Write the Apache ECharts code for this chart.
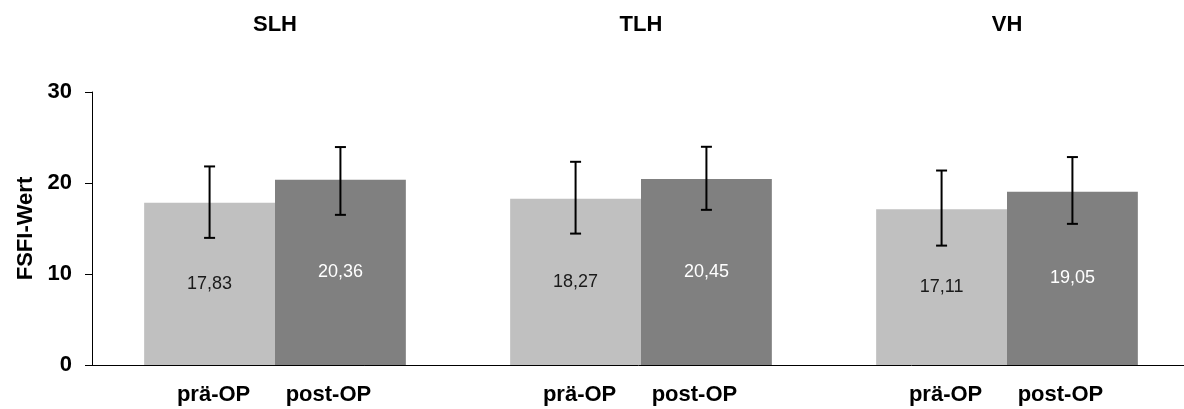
<!DOCTYPE html>
<html>
<head>
<meta charset="utf-8">
<script src="https://cdn.jsdelivr.net/npm/echarts@6/dist/echarts.min.js"></script>
<style>
html,body{margin:0;padding:0;background:#fff;}
#chart{width:1184px;height:409px;}
</style>
</head>
<body>
<div id="chart"></div>
<script>
var groups = ['SLH', 'TLH', 'VH'];
var phaseLabels = ['prä-OP', 'post-OP'];
var preMean = [17.83, 18.27, 17.11];
var postMean = [20.36, 20.45, 19.05];
var preLow = [13.97, 14.44, 13.12];
var preHigh = [21.82, 22.33, 21.37];
var postLow = [16.50, 17.05, 15.51];
var postHigh = [23.95, 23.98, 22.85];
var yTicks = [0, 10, 20, 30];

var FONT = '"Liberation Sans", Arial, sans-serif';
var BOLD_SIZE = 22;
var BAR_FRACTION = 0.715; // 1 - barCategoryGap
var LABEL_SHIFT = [4, -12]; // horizontal nudge of the phase labels (px)

var errData = [];
for (var i = 0; i < groups.length; i++) {
  errData.push([i, preLow[i], preHigh[i], 0]);
  errData.push([i, postLow[i], postHigh[i], 1]);
}

function fmt(v) { return v.toFixed(2).replace('.', ','); }

var chart = echarts.init(document.getElementById('chart'));
chart.setOption({
  animation: false,
  backgroundColor: '#fff',
  grid: { left: 92, width: 1098, top: 92, bottom: 44, containLabel: false, outerBoundsMode: 'none' },
  xAxis: [{
    type: 'category',
    data: groups,
    position: 'bottom',
    axisLine: { lineStyle: { color: '#000', width: 1 } },
    axisTick: { show: false },
    axisLabel: { show: false }
  }, {
    type: 'category',
    data: groups,
    position: 'top',
    axisLine: { show: false },
    axisTick: { show: false },
    axisLabel: { show: true, margin: 56, color: '#000', fontWeight: 'bold', fontSize: BOLD_SIZE, fontFamily: FONT }
  }],
  yAxis: {
    type: 'value',
    min: 0, max: 30, interval: 10,
    name: 'FSFI-Wert',
    nameLocation: 'middle',
    nameGap: 52,
    nameRotate: 90,
    nameTextStyle: { color: '#000', fontWeight: 'bold', fontSize: BOLD_SIZE, fontFamily: FONT },
    axisLine: { show: true, lineStyle: { color: '#000', width: 1 } },
    axisTick: { show: true, length: 7, lineStyle: { color: '#000' } },
    splitLine: { show: false },
    axisLabel: {
      color: '#000', fontWeight: 'bold', fontSize: BOLD_SIZE, fontFamily: FONT, margin: 20,
      formatter: function (v) { return yTicks.indexOf(v) >= 0 ? String(v) : ''; }
    }
  },
  series: [{
    type: 'bar',
    name: phaseLabels[0],
    data: preMean,
    barGap: '0%',
    barCategoryGap: '28.5%',
    itemStyle: { color: '#c0c0c0' },
    label: {
      show: true, position: 'inside', color: '#1a1a1a', fontSize: 18, fontFamily: FONT,
      formatter: function (p) { return fmt(p.value); }
    }
  }, {
    type: 'bar',
    name: phaseLabels[1],
    data: postMean,
    barGap: '0%',
    barCategoryGap: '28.5%',
    itemStyle: { color: '#808080' },
    label: {
      show: true, position: 'inside', color: '#fff', fontSize: 18, fontFamily: FONT,
      formatter: function (p) { return fmt(p.value); }
    }
  }, {
    type: 'custom',
    z: 10,
    clip: false,
    data: errData,
    encode: { x: 0, y: [1, 2] },
    renderItem: function (params, api) {
      var cat = api.value(0);
      var lo = api.value(1);
      var hi = api.value(2);
      var which = api.value(3);
      var band = api.size([1, 0])[0];
      var base = api.coord([cat, 0]);
      var x = base[0] + (which === 0 ? -1 : 1) * band * BAR_FRACTION / 4;
      var yLo = api.coord([cat, lo])[1];
      var yHi = api.coord([cat, hi])[1];
      var cap = 5.5;
      var st = { stroke: '#000', lineWidth: 2 };
      return {
        type: 'group',
        children: [
          { type: 'line', shape: { x1: x, y1: yLo, x2: x, y2: yHi }, style: st },
          { type: 'line', shape: { x1: x - cap, y1: yHi, x2: x + cap, y2: yHi }, style: st },
          { type: 'line', shape: { x1: x - cap, y1: yLo, x2: x + cap, y2: yLo }, style: st },
          { type: 'text', x: x + LABEL_SHIFT[which], y: base[1] + 30,
            style: { text: phaseLabels[which], fill: '#000', font: 'bold ' + BOLD_SIZE + 'px ' + FONT,
                     textAlign: 'center', textVerticalAlign: 'middle' } }
        ]
      };
    }
  }]
});
</script>
</body>
</html>
